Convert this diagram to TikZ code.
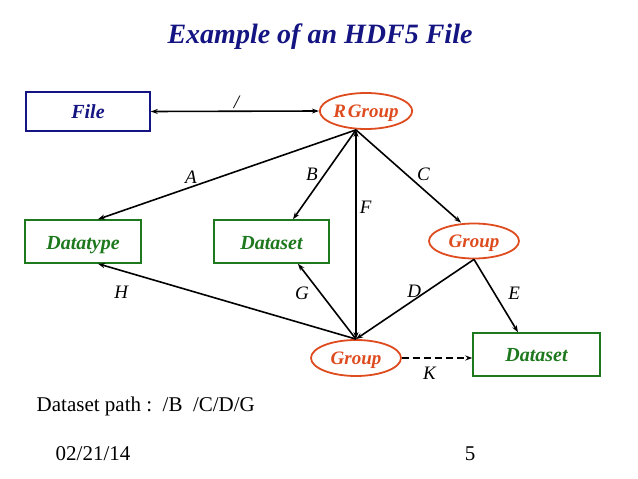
\documentclass[tikz,border=0pt]{standalone}
\usepackage{fontspec}
\setmainfont{Liberation Serif}
\definecolor{hdfnavy}{RGB}{20, 20, 130}
\definecolor{hdfgreen}{RGB}{30, 120, 30}
\definecolor{hdforange}{RGB}{222, 75, 30}
\usetikzlibrary{arrows.meta,positioning,shapes}

\begin{document}
\begin{tikzpicture}[x=1pt, y=-1pt, thick,
    every node/.style={font=\fontsize{21}{25}\selectfont},
    filebox/.style={rectangle, draw=hdfnavy, line width=1.5pt, text=hdfnavy, font=\fontsize{20}{24}\selectfont\bfseries\itshape, minimum width=124pt, minimum height=39pt},
    databox/.style={rectangle, draw=hdfgreen, line width=1.5pt, text=hdfgreen, font=\fontsize{20}{24}\selectfont\bfseries\itshape, minimum height=43pt, text height=16pt, text depth=0pt},
    groupnode/.style={ellipse, draw=hdforange, line width=1.8pt, text=hdforange, font=\fontsize{19}{23}\selectfont\bfseries\itshape, minimum width=90pt, minimum height=35pt, inner sep=0pt, text height=13pt, text depth=0pt},
    link/.style={-{Stealth[length=7pt, width=5pt]}, line width=1.6pt},
    lbl/.style={font=\fontsize{19}{23}\selectfont\itshape, inner sep=2pt}]
    \useasboundingbox (0,0) rectangle (638,479);

    \node[font=\fontsize{28}{32}\selectfont\bfseries\itshape, text=hdfnavy] (title) at (320,37) {Example of an HDF5 File};

    \node[filebox] (file) at (88,111.5) {File};
    \node[groupnode, minimum width=92pt, minimum height=36pt] (rgroup) at (366,111) {R\kern2pt Group};
    \node[databox, minimum width=116pt] (datatype) at (83,241.5) {Datatype};
    \node[databox, minimum width=115pt] (dset1) at (271.5,241.5) {Dataset};
    \node[groupnode] (group1) at (474,241) {Group};
    \node[groupnode, minimum height=36pt] (group2) at (356,358) {Group};
    \node[databox, minimum width=127pt, text height=14pt] (dset2) at (536.5,354.5) {Dataset};

    \draw[{Stealth[length=7pt, width=5pt]}-{Stealth[length=7pt, width=5pt]}, line width=1.6pt] (file.east) -- (rgroup.west) node[lbl, pos=0.51, above] {/};
    \draw[link] ([xshift=-10pt]rgroup.south) -- ([xshift=15pt]datatype.north) node[lbl, pos=0.64, above=1pt] {A};
    \draw[link] ([xshift=-10pt]rgroup.south) -- ([xshift=21.5pt]dset1.north) node[lbl, pos=0.5, left=4pt] {B};
    \draw[link] ([xshift=-10pt]rgroup.south) -- ([xshift=-13pt]group1.north) node[lbl, pos=0.48, right=8pt] {C};
    \draw[{Stealth[length=7pt, width=5pt]}-{Stealth[length=7pt, width=5pt]}, line width=1.6pt] ([xshift=-10pt]rgroup.south) -- (group2.north) node[lbl, pos=0.37, right=1pt] {F};
    \draw[link] (group2.north) -- ([xshift=15pt]datatype.south) node[lbl, pos=0.91, below=13pt] {H};
    \draw[link] (group2.north) -- ([xshift=26.5pt]dset1.south) node[lbl, pos=0.61, left=9pt] {G};
    \draw[link] (group1.south) -- (group2.north) node[lbl, pos=0.4, left=3pt] {D};
    \draw[link] (group1.south) -- ([xshift=-18.5pt]dset2.north) node[lbl, pos=0.47, right=11pt] {E};
    \draw[link, dash pattern=on 7pt off 4pt] (group2.east) -- (group2.east -| dset2.west) node[lbl, pos=0.39, below=6pt] {K};

    \node[anchor=west] (path) at (33,406) {Dataset path :\ \ /B\ \ /C/D/G};
    \node[anchor=west] (date) at (52,454) {02/21/14};
    \node (page) at (470,454) {5};
\end{tikzpicture}
\end{document}
